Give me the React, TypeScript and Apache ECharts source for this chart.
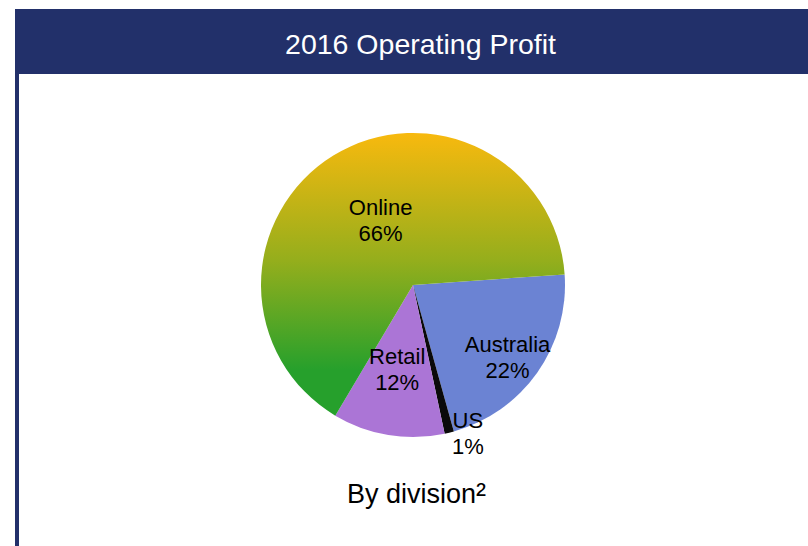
import React, { useEffect, useRef } from "react";
import * as echarts from "echarts";

const categories = ["Australia", "US", "Retail", "Online"];
const shares = [22, 1, 12, 66];
const titleText = "2016 Operating Profit";
const subtitleMain = "By division";
const subtitleSup = "²";

const NAVY = "#22306A";
const FONT = "'Liberation Sans', Arial, sans-serif";

const sliceColors: any[] = [
  "#6B83D3",
  "#0A0A0A",
  "#AB75D6",
  new echarts.graphic.LinearGradient(0, 0, 0, 1, [
    { offset: 0, color: "#F8B90E" },
    { offset: 0.45, color: "#95AE1C" },
    { offset: 0.84, color: "#26A02C" },
    { offset: 1, color: "#26A02C" },
  ]),
];

// label nudges (px) relative to the default inside position
const labelNudges: number[][] = [
  [30, 27],
  [36, 72],
  [-3, 7],
  [9, 3],
];

export default function App() {
  const ref = useRef<HTMLDivElement>(null);

  useEffect(() => {
    if (!ref.current) return;
    const chart = echarts.init(ref.current, null, { renderer: "svg" });
    const option: any = {
      animation: false,
      backgroundColor: "#ffffff",
      graphic: [
        {
          type: "rect",
          shape: { x: 15, y: 9, width: 793, height: 65 },
          style: { fill: NAVY },
          z: 1,
        },
        {
          type: "rect",
          shape: { x: 15, y: 74, width: 4, height: 472 },
          style: { fill: NAVY },
          z: 1,
        },
        {
          type: "text",
          x: 420.5,
          y: 43.5,
          z: 2,
          style: {
            text: titleText,
            fill: "#ffffff",
            font: `28.5px ${FONT}`,
            textAlign: "center",
            textVerticalAlign: "middle",
          },
        },
        {
          type: "text",
          x: 416.5,
          y: 493.5,
          z: 2,
          style: {
            text: `{a|${subtitleMain}}{s|${subtitleSup}}`,
            fill: "#000000",
            textAlign: "center",
            textVerticalAlign: "middle",
            rich: {
              a: { fontFamily: FONT, fontSize: 27, fill: "#000000", fontWeight: "normal" },
              s: { fontFamily: FONT, fontSize: 30, fill: "#000000", fontWeight: "normal" },
            },
          },
        },
      ],
      series: [
        {
          type: "pie",
          center: [413, 285],
          radius: [0, 152],
          startAngle: 4,
          clockwise: true,
          avoidLabelOverlap: false,
          silent: true,
          emphasis: { disabled: true },
          itemStyle: { borderWidth: 0 },
          label: {
            show: true,
            position: "inside",
            formatter: "{b}\n{c}%",
            color: "#000000",
            fontFamily: FONT,
            fontSize: 22,
            lineHeight: 26,
            textBorderWidth: 0,
          },
          labelLine: { show: false },
          labelLayout: (params: any) => {
            const n = labelNudges[params.dataIndex] || [0, 0];
            return { dx: n[0], dy: n[1] };
          },
          data: categories.map((name, i) => ({
            name,
            value: shares[i],
            itemStyle: { color: sliceColors[i] },
          })),
        },
      ],
    };
    chart.setOption(option);
    return () => chart.dispose();
  }, []);

  return (
    <div
      ref={ref}
      style={{ position: "absolute", left: 0, top: 0, width: 808, height: 546 }}
    />
  );
}
